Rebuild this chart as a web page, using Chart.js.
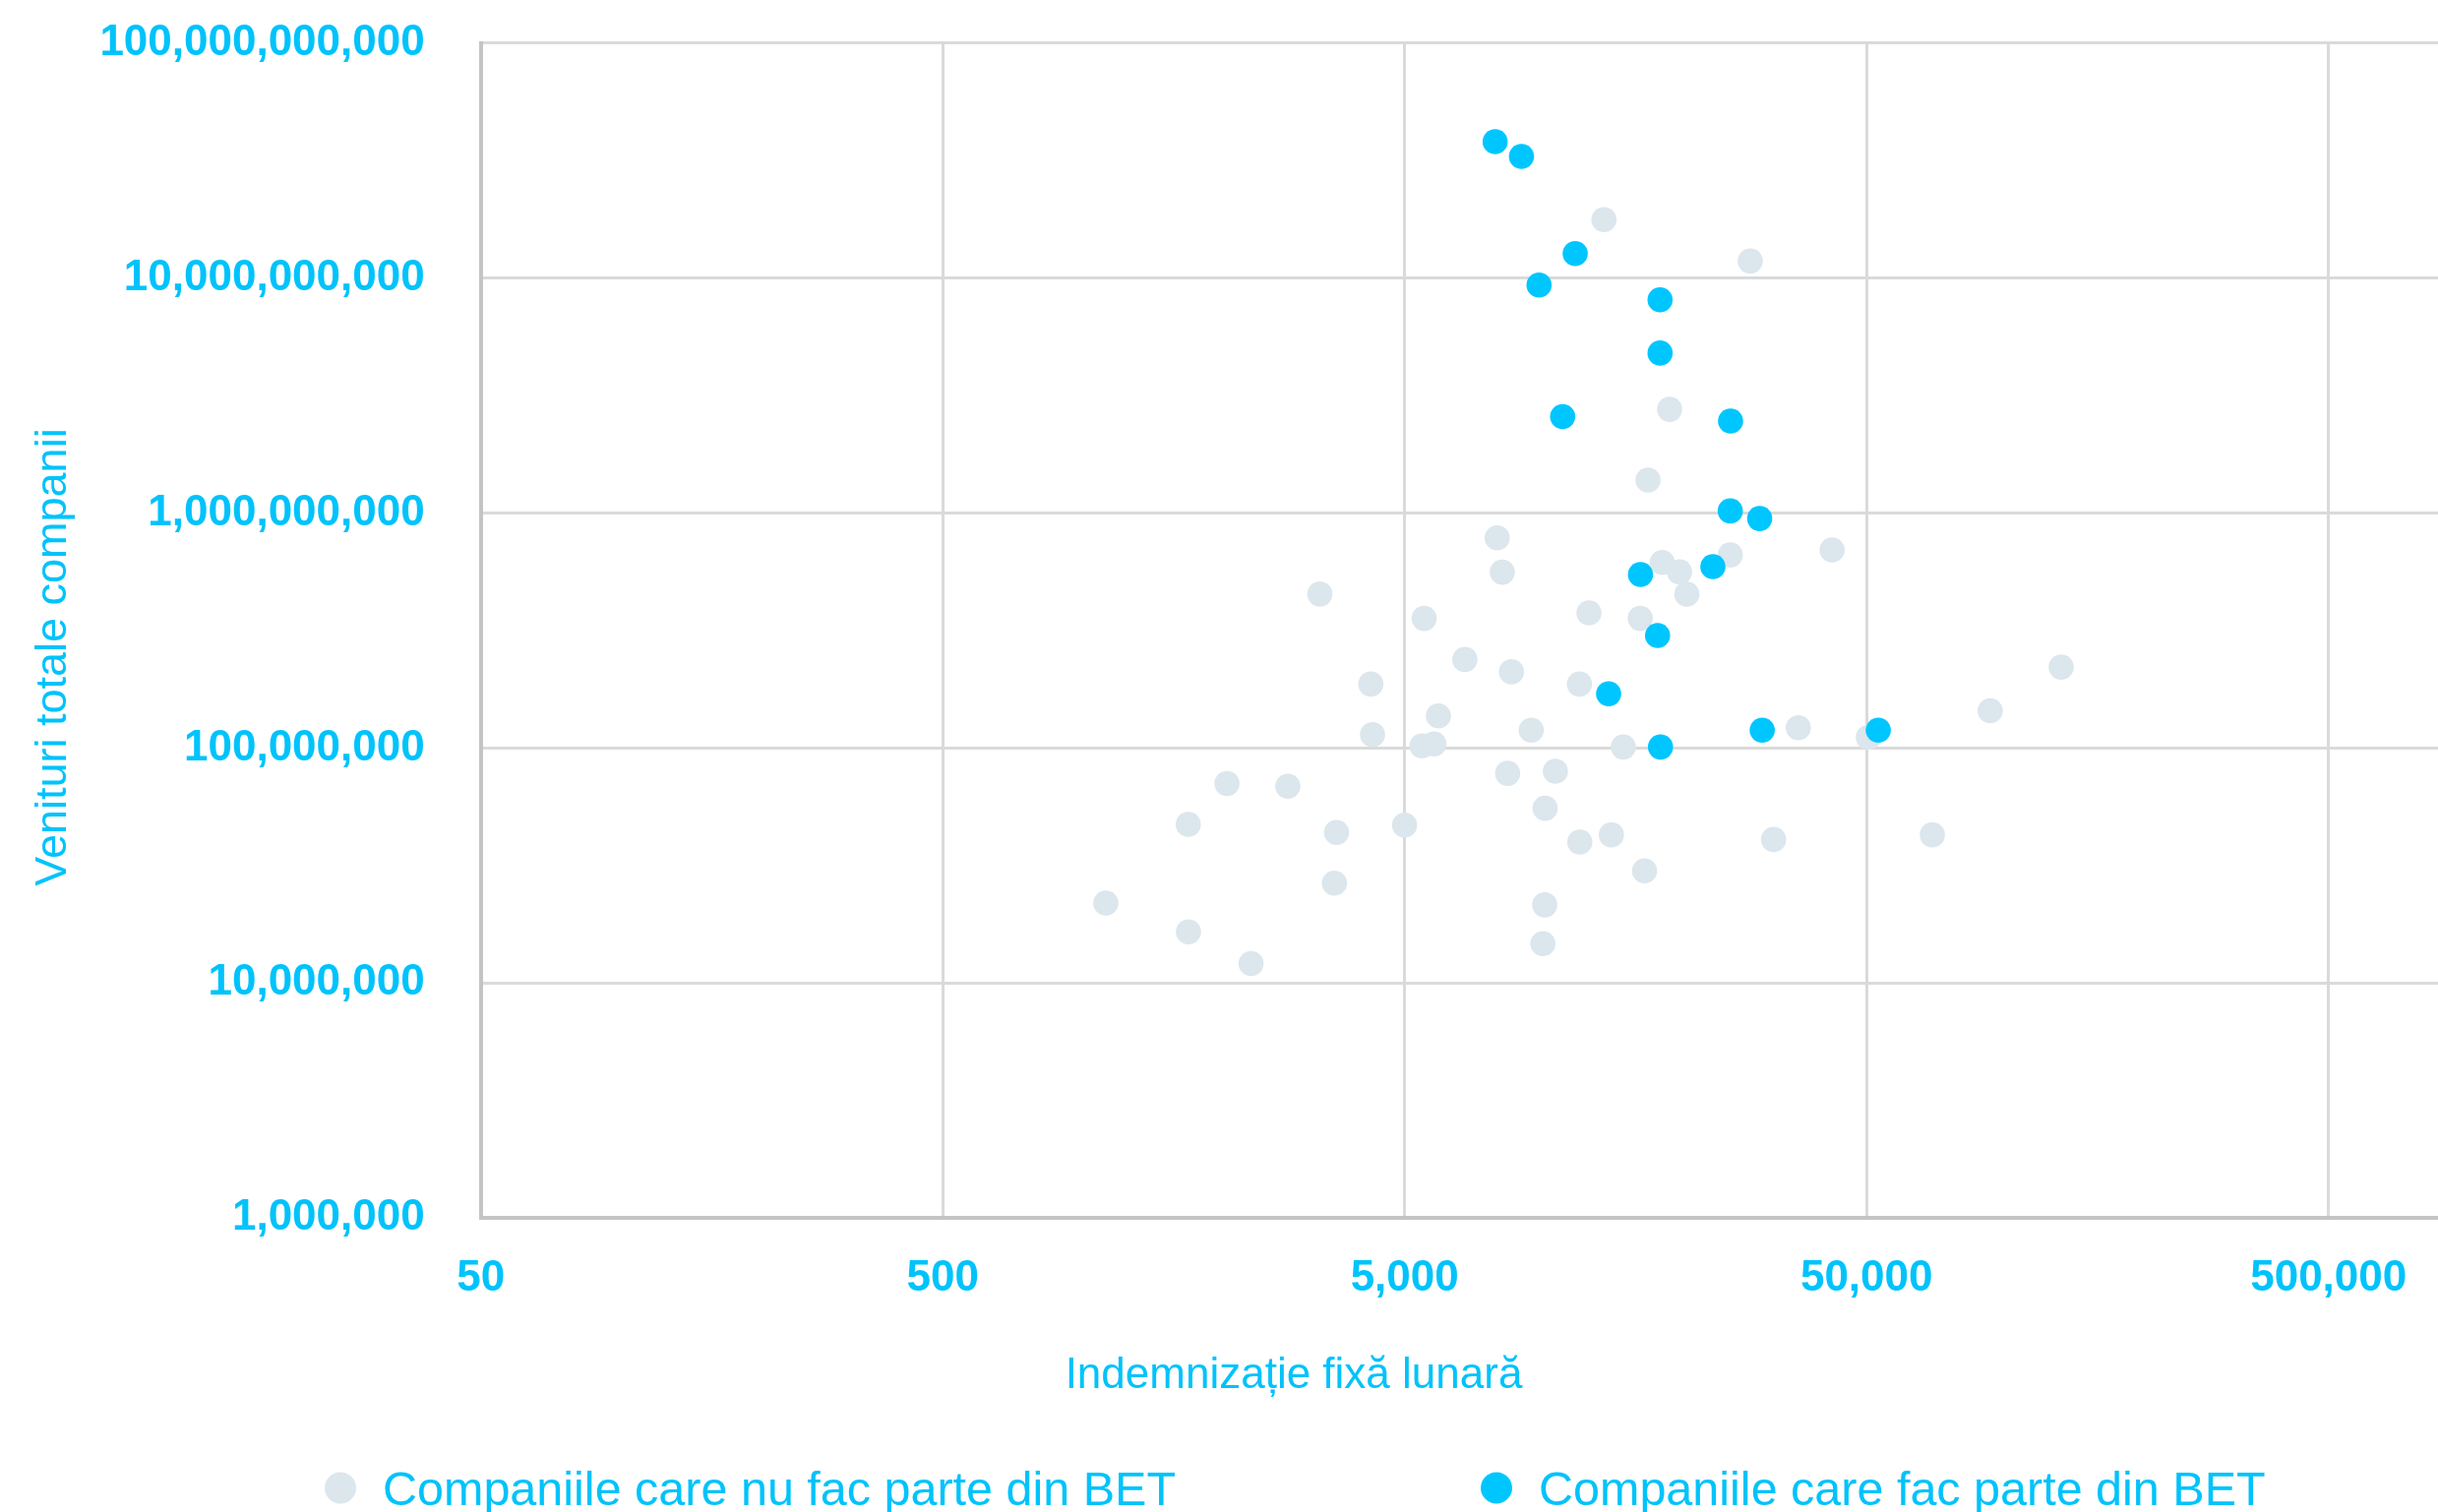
<!DOCTYPE html>
<html>
<head>
<meta charset="utf-8">
<script src="https://cdn.jsdelivr.net/npm/chart.js@4.4.1/dist/chart.umd.min.js"></script>
<style>
  html, body { margin: 0; padding: 0; background: #fff; }
  #wrap { width: 2478px; height: 1537px; position: relative; }
</style>
</head>
<body>
<div id="wrap"><canvas id="myChart" width="2478" height="1537"></canvas></div>
<script>
// series + axes
var seriesLabels = ['Companiile care nu fac parte din BET', 'Companiile care fac parte din BET'];
var xTitle = 'Indemnizație fixă lunară';
var yTitle = 'Venituri totale companii';
var xTicks = [50, 500, 5000, 50000, 500000];
var yTicks = [1e6, 1e7, 1e8, 1e9, 1e10, 1e11];

// companii care nu fac parte din BET
var nonBetX = [13500, 28000, 18730, 16820, 7930, 42100, 25340, 18050, 19680, 8135,
  20410, 3276, 5510, 12530, 16180, 6750, 8515, 4224, 11950, 131900,
  5916, 92600, 4260, 9396, 35580, 50440, 5450, 5785, 14870, 2062,
  2793, 8355, 10600, 10070, 1700, 3560, 4998, 11970, 14010, 31450,
  69400, 16530, 3523, 1127, 10050, 1702, 9960, 2325];
var nonBetY = [1.77e10, 1.18e10, 2.76e9, 1.38e9, 7.83e8, 6.96e8, 6.63e8, 6.16e8, 5.61e8, 5.60e8,
  4.51e8, 4.52e8, 3.56e8, 3.76e8, 3.56e8, 2.38e8, 2.11e8, 1.87e8, 1.87e8, 2.21e8,
  1.37e8, 1.44e8, 1.14e8, 1.19e8, 1.22e8, 1.11e8, 1.02e8, 1.04e8, 1.01e8, 7.06e7,
  6.87e7, 7.80e7, 7.96e7, 5.54e7, 4.73e7, 4.37e7, 4.70e7, 3.98e7, 4.27e7, 4.08e7,
  4.27e7, 3.00e7, 2.66e7, 2.19e7, 2.15e7, 1.65e7, 1.47e7, 1.21e7];

// companii din BET
var betX = [7850, 8950, 11700, 9770, 17860, 17860, 10990, 25380, 25340, 29340,
  23240, 16200, 17640, 13820, 29720, 53000, 17900];
var betY = [3.80e10, 3.29e10, 1.27e10, 9.33e9, 8.07e9, 4.79e9, 2.57e9, 2.46e9, 1.02e9, 9.47e8,
  5.91e8, 5.47e8, 3.01e8, 1.70e8, 1.19e8, 1.19e8, 1.01e8];

var cyan = '#00c6ff';
var grayDot = '#dce6ed';
var txtColor = '#00c3fb';
var fontFam = '"Liberation Sans", Arial, Helvetica, sans-serif';

function pts(xs, ys) {
  return xs.map(function (x, i) { return { x: x, y: ys[i] }; });
}
function fmt(v) { return Number(v).toLocaleString('en-US'); }

// titluri axe + legenda
var overlay = {
  id: 'overlay',
  afterDraw: function (chart) {
    var c = chart.ctx;
    c.save();
    c.fillStyle = txtColor;
    c.textBaseline = 'middle';
    c.textAlign = 'center';
    c.font = '44px ' + fontFam;
    c.fillText(xTitle, 1315, 1399);
    c.save();
    c.translate(55, 668);
    c.rotate(-Math.PI / 2);
    c.font = '45px ' + fontFam;
    c.fillText(yTitle, 0, 0);
    c.restore();

    var legX = [346, 1521];
    c.font = '48.5px ' + fontFam;
    c.textAlign = 'left';
    chart.data.datasets.forEach(function (ds, i) {
      c.beginPath();
      c.fillStyle = ds.backgroundColor;
      c.arc(legX[i], 1512.5, 16, 0, Math.PI * 2);
      c.fill();
      c.fillStyle = txtColor;
      c.fillText(ds.label, legX[i] + 43, 1517);
    });
    c.restore();
  }
};

var ctx = document.getElementById('myChart').getContext('2d');
var myChart = new Chart(ctx, {
  type: 'scatter',
  data: {
    datasets: [{
      label: seriesLabels[0],
      data: pts(nonBetX, nonBetY),
      backgroundColor: grayDot,
      borderWidth: 0,
      pointRadius: 12.8,
      order: 1
    }, {
      label: seriesLabels[1],
      data: pts(betX, betY),
      backgroundColor: cyan,
      borderWidth: 0,
      pointRadius: 12.8,
      order: 0
    }]
  },
  options: {
    responsive: false,
    animation: false,
    devicePixelRatio: 1,
    layout: { autoPadding: false, padding: { top: 43.6, left: 0, right: 0, bottom: 0 } },
    plugins: {
      legend: { display: false },
      tooltip: { enabled: false }
    },
    scales: {
      x: {
        type: 'logarithmic',
        min: 50,
        max: 863000,
        afterBuildTicks: function (s) { s.ticks = xTicks.map(function (v) { return { value: v }; }); },
        afterFit: function (s) {
          s.height = 1537 - 1238.2;
          s.paddingLeft = 0;
          s.paddingRight = 0;
        },
        grid: { color: '#dadada', lineWidth: 3, drawTicks: false },
        border: { color: '#c4c4c4', width: 4 },
        ticks: {
          color: txtColor,
          font: { family: fontFam, size: 44, weight: 'bold' },
          padding: 35,
          maxRotation: 0,
          autoSkip: false,
          callback: function (v) { return fmt(v); }
        }
      },
      y: {
        type: 'logarithmic',
        min: 1e6,
        max: 1e11,
        afterBuildTicks: function (s) { s.ticks = yTicks.map(function (v) { return { value: v }; }); },
        afterFit: function (s) {
          s.width = 488.7;
          s.paddingTop = 0;
          s.paddingBottom = 0;
        },
        grid: { color: '#dadada', lineWidth: 3, drawTicks: false },
        border: { color: '#c4c4c4', width: 4 },
        ticks: {
          color: txtColor,
          font: { family: fontFam, size: 44, weight: 'bold' },
          padding: 57,
          autoSkip: false,
          callback: function (v) { return fmt(v); }
        }
      }
    }
  },
  plugins: [overlay]
});
</script>
</body>
</html>
